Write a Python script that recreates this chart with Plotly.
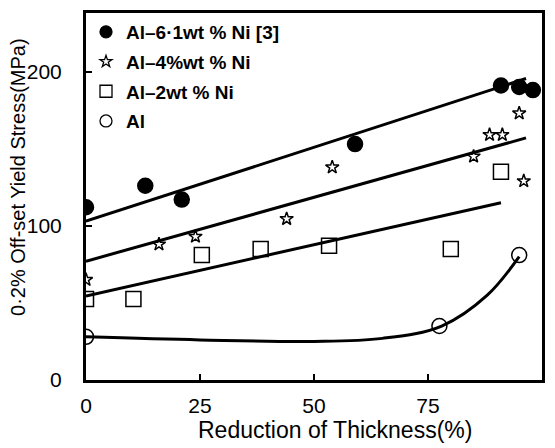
import plotly.graph_objects as go

# Measured yield stress (MPa) vs. reduction of thickness (%)
ni61_x = [0, 13, 21, 59, 91, 95, 98]
ni61_y = [112, 126, 117, 153, 191, 190, 188]

ni4_x = [0, 16, 24, 44, 54, 85, 88.5, 91.3, 95, 96]
ni4_y = [65, 88, 93, 104.5, 138, 145, 159, 159, 173, 129]

ni2_x = [0, 10.4, 25.4, 38.3, 53.3, 80, 91]
ni2_y = [52.6, 52.6, 81, 85, 87, 85, 135]

al_x = [0, 77.5, 95]
al_y = [28, 35, 81]

# Fitted trend lines (end points)
fit61_x = [0, 96.5]
fit61_y = [103, 195.5]
fit4_x = [0, 96.5]
fit4_y = [77, 157]
fit2_x = [0, 91]
fit2_y = [54.5, 115]

# Smooth guide curve for pure Al
al_curve_x = [0, 25, 50, 65, 78, 88, 95]
al_curve_y = [28, 26, 25, 27, 35, 55, 80]

names = ["Al\u20136\u00b71wt % Ni [3]", "Al\u20134%wt % Ni", "Al\u20132wt % Ni", "Al"]
symbols = ["circle", "star-open", "square-open", "circle-open"]
data_sizes = [15, 10, 15, 15]
legend_sizes = [12, 9, 12, 12]
series = [(ni61_x, ni61_y), (ni4_x, ni4_y), (ni2_x, ni2_y), (al_x, al_y)]

x_title = "Reduction of Thickness(%)"
y_title = "0\u00b72% Off-set Yield Stress(MPa)"

fig = go.Figure()

line_style = dict(color="black", width=3)
for fx, fy in [(fit61_x, fit61_y), (fit4_x, fit4_y), (fit2_x, fit2_y)]:
    fig.add_trace(go.Scatter(x=fx, y=fy, mode="lines", line=line_style,
                             showlegend=False, hoverinfo="skip"))
fig.add_trace(go.Scatter(x=al_curve_x, y=al_curve_y, mode="lines",
                         line=dict(color="black", width=3, shape="spline", smoothing=1.0),
                         showlegend=False, hoverinfo="skip"))

for i, (sx, sy) in enumerate(series):
    fig.add_trace(go.Scatter(x=sx, y=sy, mode="markers", name=names[i],
                             legendgroup=f"g{i}", showlegend=False,
                             marker=dict(symbol=symbols[i], size=data_sizes[i], color="black",
                                         line=dict(width=1.5, color="black"))))
    # legend entry with a smaller key symbol
    fig.add_trace(go.Scatter(x=[None], y=[None], mode="markers", name=names[i],
                             legendgroup=f"g{i}",
                             marker=dict(symbol=symbols[i], size=legend_sizes[i], color="black",
                                         line=dict(width=1.3, color="black"))))

fig.update_layout(
    width=555, height=448,
    margin=dict(l=86, r=10, t=12, b=68),
    paper_bgcolor="white", plot_bgcolor="white",
    font=dict(family="Liberation Sans, Arial, sans-serif", size=21, color="black"),
    legend=dict(x=0.0, y=1.0, xanchor="left", yanchor="top",
                bgcolor="rgba(0,0,0,0)",
                font=dict(size=19, weight="bold"),
                itemsizing="trace", traceorder="grouped", tracegroupgap=2,
                itemwidth=30),
    annotations=[
        dict(text=x_title, xref="paper", yref="paper", x=0.547, y=-0.135,
             xanchor="center", yanchor="middle", showarrow=False,
             font=dict(size=23)),
        dict(text=y_title, xref="paper", yref="paper", x=-0.148, y=0.552,
             xanchor="center", yanchor="middle", showarrow=False, textangle=-90,
             font=dict(size=20)),
    ],
)
fig.update_xaxes(range=[0, 100], tickvals=[0, 25, 50, 75, 100],
                 ticks="inside", ticklen=6, tickwidth=2, tickcolor="black",
                 showline=True, linewidth=3, linecolor="black", mirror=True,
                 showgrid=False, zeroline=False, ticklabelstandoff=5)
fig.update_yaxes(range=[0, 238], tickvals=[0, 100, 200],
                 ticks="inside", ticklen=6, tickwidth=2, tickcolor="black",
                 showline=True, linewidth=3, linecolor="black", mirror=True,
                 showgrid=False, zeroline=False, ticklabelstandoff=17)

fig.write_html("out.html")
